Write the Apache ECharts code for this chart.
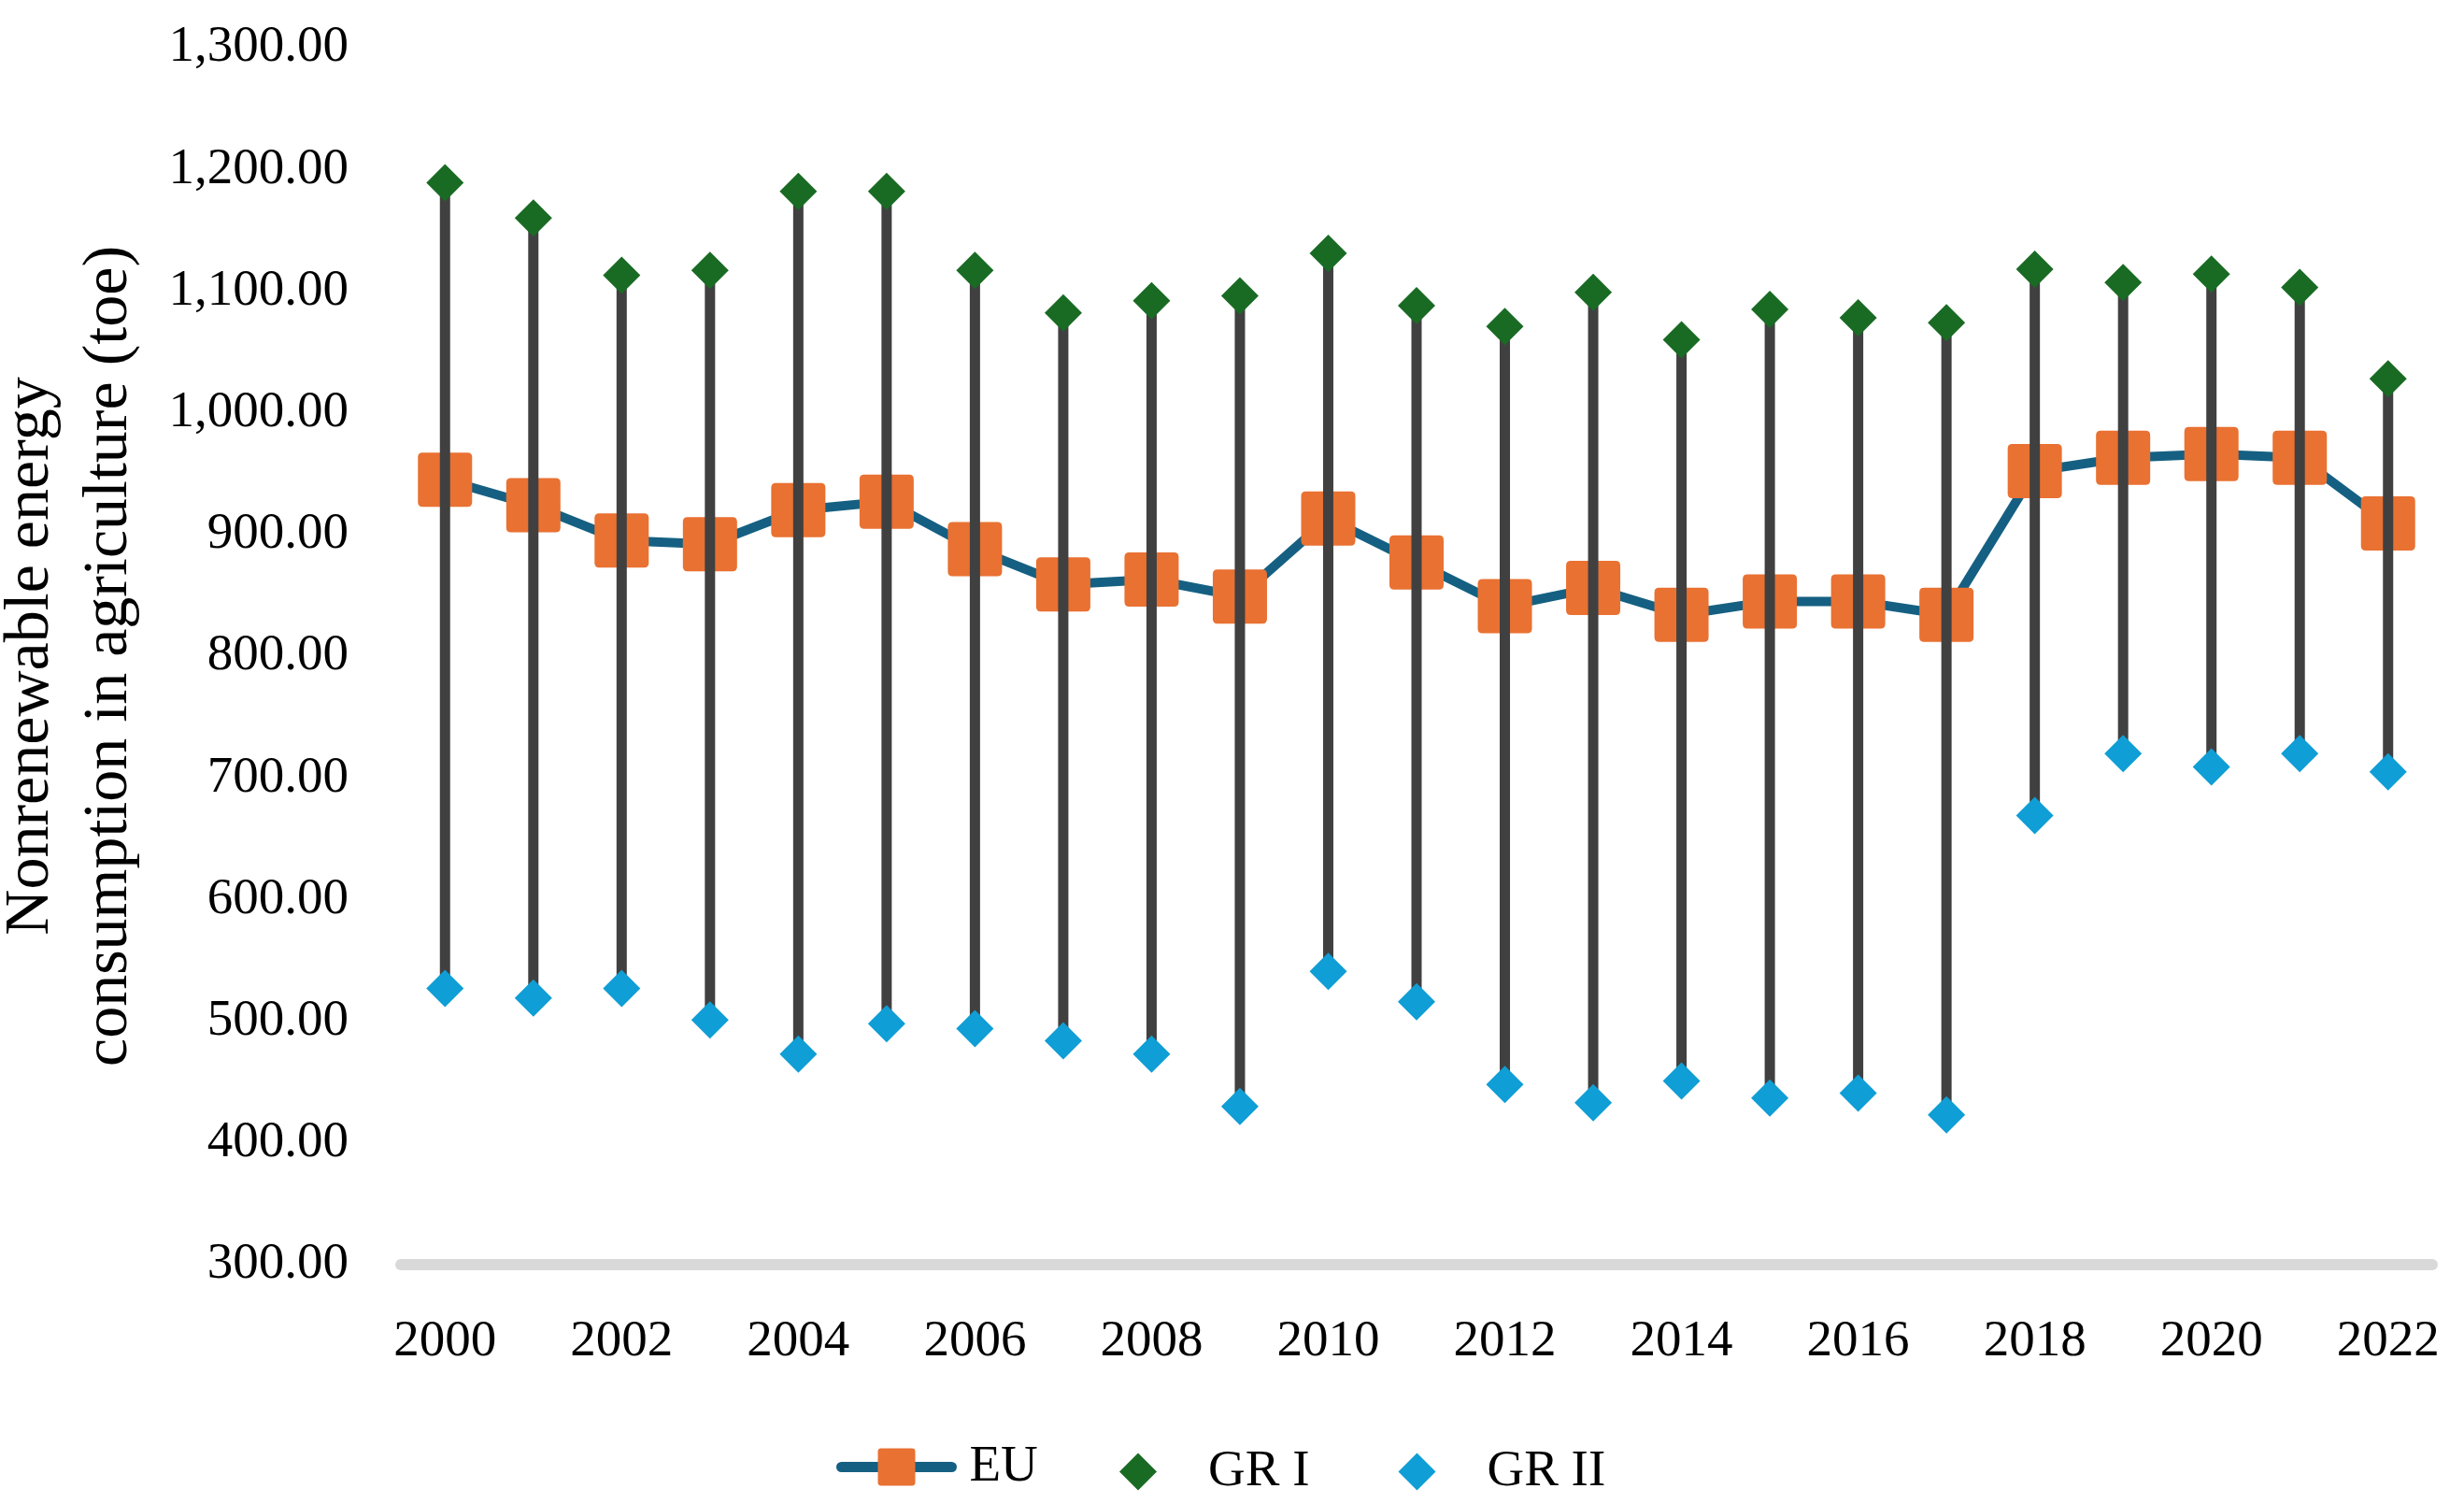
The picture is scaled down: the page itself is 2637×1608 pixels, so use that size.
<!DOCTYPE html>
<html>
<head>
<meta charset="utf-8">
<script src="https://cdn.jsdelivr.net/npm/echarts@6/dist/echarts.min.js"></script>
<style>
html,body{margin:0;padding:0;background:#fff;}
#chart{width:2637px;height:1608px;}
</style>
</head>
<body>
<div id="chart"></div>
<script>
const years = ['2000','2001','2002','2003','2004','2005','2006','2007','2008','2009','2010','2011','2012','2013','2014','2015','2016','2017','2018','2019','2020','2021','2022'];
const euValues = [945, 924, 895, 892, 920, 927, 888, 859, 863, 849, 913, 877, 841, 856, 834, 845, 845, 834, 952, 963, 966, 963, 909];
const gr1Values = [1189, 1160, 1113, 1117, 1182, 1182, 1117, 1082, 1092, 1096, 1131, 1088, 1071, 1099, 1060, 1085, 1078, 1074, 1118, 1107, 1114, 1103, 1028];
const gr2Values = [527, 519, 527, 501, 473, 498, 494, 484, 473, 430, 541, 516, 448, 433, 451, 437, 441, 423, 669, 720, 709, 720, 705];

const FONT = 'Liberation Serif';
const BOX = 'path://M5,0 H53 Q58,0 58,5 V53 Q58,58 53,58 H5 Q0,58 0,53 V5 Q0,0 5,0 Z';

function fmt(v) {
  const s = v.toFixed(2);
  const parts = s.split('.');
  parts[0] = parts[0].replace(/\B(?=(\d{3})+(?!\d))/g, ',');
  return parts.join('.');
}

const stemData = years.map((y, i) => [i, gr1Values[i], gr2Values[i]]);

const chart = echarts.init(document.getElementById('chart'));
chart.setOption({
  animation: false,
  backgroundColor: '#ffffff',
  grid: { left: 429, right: 34, top: 51, bottom: 255, containLabel: false, outerBoundsMode: 'none' },
  xAxis: {
    type: 'category',
    data: years,
    boundaryGap: true,
    axisLine: { show: true, lineStyle: { color: '#D9D9D9', width: 12 } },
    axisTick: { show: false },
    axisLabel: { interval: 1, margin: 55, fontSize: 55, fontFamily: FONT, color: '#000' },
    splitLine: { show: false }
  },
  yAxis: {
    type: 'value',
    min: 300,
    max: 1300,
    interval: 100,
    axisLine: { show: false },
    axisTick: { show: false },
    splitLine: { show: false },
    axisLabel: { margin: 56, fontSize: 55, fontFamily: FONT, color: '#000', formatter: fmt },
    name: 'Nonrenewable energy\nconsumption in agriculture (toe)',
    nameLocation: 'middle',
    nameGap: 270,
    nameTextStyle: { fontSize: 68, lineHeight: 84, fontFamily: FONT, color: '#000' }
  },
  legend: [
    {
      data: ['EU'],
      left: 890,
      top: 1537,
      itemWidth: 118,
      itemHeight: 50,
      itemGap: 0,
      lineStyle: { width: 11, cap: 'round' },
      textStyle: { fontSize: 55, fontFamily: FONT, color: '#000', padding: [0, 0, 0, 14] }
    },
    {
      data: ['GR I', 'GR II'],
      left: 1193,
      top: 1542,
      itemWidth: 40,
      itemHeight: 40,
      itemGap: 95,
      itemStyle: { opacity: 1 },
      textStyle: { fontSize: 55, fontFamily: FONT, color: '#000', padding: [0, 0, 0, 50] }
    }
  ],
  series: [
    {
      name: 'EU',
      type: 'line',
      z: 2,
      data: euValues,
      symbol: BOX,
      symbolSize: 58,
      lineStyle: { color: '#156082', width: 10 },
      itemStyle: { color: '#E97132', opacity: 1 },
      emphasis: { disabled: true }
    },
    {
      name: 'range',
      type: 'custom',
      z: 3,
      data: stemData,
      encode: { x: 0, y: [1, 2] },
      renderItem: function (params, api) {
        const idx = api.value(0);
        const p1 = api.coord([idx, api.value(1)]);
        const p2 = api.coord([idx, api.value(2)]);
        return {
          type: 'line',
          shape: { x1: p1[0], y1: p1[1], x2: p2[0], y2: p2[1] },
          style: { stroke: '#404040', lineWidth: 11 }
        };
      },
      silent: true
    },
    {
      name: 'GR I',
      type: 'scatter',
      z: 4,
      data: gr1Values,
      symbol: 'diamond',
      symbolSize: 40,
      itemStyle: { color: '#196B24', opacity: 1 },
      emphasis: { disabled: true }
    },
    {
      name: 'GR II',
      type: 'scatter',
      z: 4,
      data: gr2Values,
      symbol: 'diamond',
      symbolSize: 40,
      itemStyle: { color: '#0F9ED5', opacity: 1 },
      emphasis: { disabled: true }
    }
  ]
});
</script>
</body>
</html>
